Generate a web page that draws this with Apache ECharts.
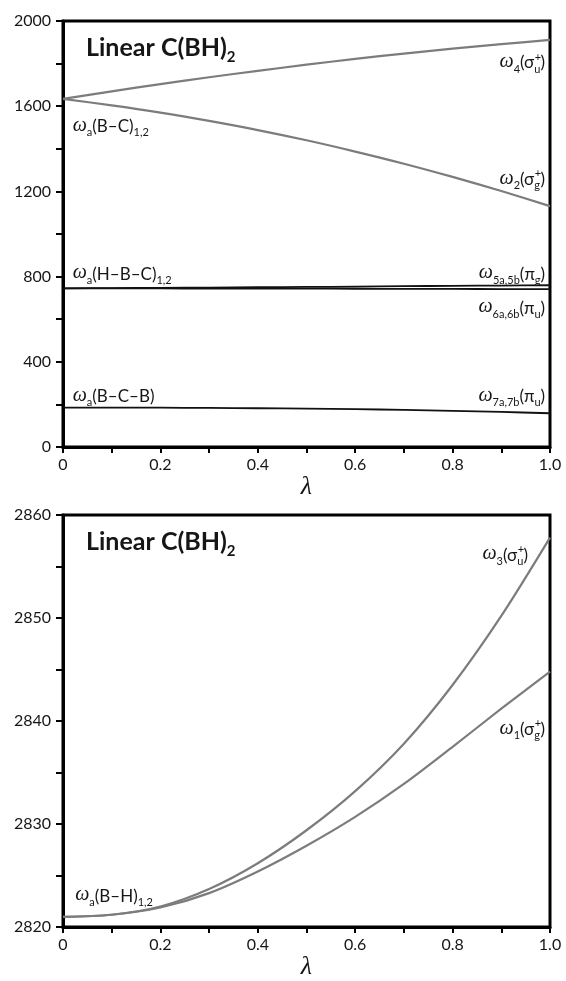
<!DOCTYPE html>
<html>
<head>
<meta charset="utf-8">
<script src="https://cdn.jsdelivr.net/npm/echarts@6/dist/echarts.min.js"></script>
<style>
  html, body { margin: 0; padding: 0; background: #fff; }
  #main { width: 566px; height: 981px; }
</style>
</head>
<body>
<div id="main"></div>
<script>
// lambda grid shared by both panels
const lambda = [0, 0.1, 0.2, 0.3, 0.4, 0.5, 0.6, 0.7, 0.8, 0.9, 1.0];

// upper panel (cm-1)
const w4 = [1634, 1670, 1704, 1736, 1766, 1795, 1822, 1847, 1870, 1891, 1911];
const w2 = [1634, 1604, 1570, 1531, 1488, 1440, 1387, 1330, 1268, 1202, 1131];
const w5 = [745, 746, 747, 748.5, 750, 751.5, 753, 755, 756.5, 758, 759.5];
const w6 = [745, 745, 744.5, 744, 744, 743.5, 743, 742.5, 742, 741.5, 741];
const w7 = [185, 185, 184.5, 183.5, 182, 180, 177.5, 174.5, 170, 164.5, 158.5];

// lower panel (cm-1)
const w3 = [2821.0, 2821.2, 2822.0, 2823.7, 2826.2, 2829.4, 2833.2, 2837.8, 2843.5, 2850.2, 2857.8];
const w1 = [2821.0, 2821.2, 2821.9, 2823.3, 2825.4, 2827.9, 2830.7, 2833.9, 2837.5, 2841.2, 2844.8];

// labelled ticks
const xLabels = [0, 0.2, 0.4, 0.6, 0.8, 1.0];
const yTopLabels = [0, 400, 800, 1200, 1600, 2000];
const yBotLabels = [2820, 2830, 2840, 2850, 2860];

const SANS = 'Lato';
const SERIF = 'Liberation Serif';
const INK = '#161616';

const pairs = (ys) => lambda.map((x, i) => [x, ys[i]]);

function xAxisCfg(gi) {
    return {
        type: 'value', gridIndex: gi, min: 0, max: 1, interval: 0.1,
        name: 'λ', nameLocation: 'middle', nameGap: 24,
        nameTextStyle: {fontFamily: SERIF, fontStyle: 'italic', fontSize: 26, color: INK},
        axisLine: {onZero: false, lineStyle: {color: '#000', width: 3}},
        axisTick: {length: 6, lineStyle: {color: '#000', width: 2}},
        axisLabel: {
            margin: 10, fontSize: 16, fontFamily: SANS, color: INK,
            formatter: v => xLabels.some(l => Math.abs(l - v) < 1e-6) ? (v === 0 ? '0' : v.toFixed(1)) : ''
        },
        splitLine: {show: false}
    };
}

function yAxisCfg(gi, min, max, step, labels) {
    return {
        type: 'value', gridIndex: gi, min: min, max: max, interval: step,
        axisLine: {lineStyle: {color: '#000', width: 3}},
        axisTick: {length: 7, lineStyle: {color: '#000', width: 2}},
        axisLabel: {
            margin: 12, fontSize: 16, fontFamily: SANS, color: INK,
            formatter: v => labels.some(l => Math.abs(l - v) < 1e-6) ? String(Math.round(v)) : ''
        },
        splitLine: {show: false}
    };
}

function line(name, ys, gi, color, width) {
    return {
        name: name, type: 'line', xAxisIndex: gi, yAxisIndex: gi,
        data: pairs(ys), showSymbol: false, smooth: 0.3,
        lineStyle: {color: color, width: width}, silent: true
    };
}

const chart = echarts.init(document.getElementById('main'));
chart.setOption({
    animation: false,
    backgroundColor: '#fff',
    grid: [
        {left: 63, right: 16, top: 21, height: 426, show: true, borderColor: '#000', borderWidth: 3, containLabel: false},
        {left: 63, right: 16, top: 515, height: 425, show: true, borderColor: '#000', borderWidth: 3, containLabel: false}
    ],
    xAxis: [xAxisCfg(0), xAxisCfg(1)],
    yAxis: [yAxisCfg(0, 0, 2000, 200, yTopLabels), yAxisCfg(1, 2820, 2860, 5, yBotLabels)],
    series: [
        line('w4', w4, 0, '#7c7c7c', 2.2),
        line('w2', w2, 0, '#7c7c7c', 2.2),
        line('w5', w5, 0, '#111', 1.8),
        line('w6', w6, 0, '#111', 1.8),
        line('w7', w7, 0, '#111', 1.8),
        line('w3', w3, 1, '#7c7c7c', 2.2),
        line('w1', w1, 1, '#7c7c7c', 2.2)
    ]
});

// --- text annotations with sub/superscripts ---
const mctx = document.createElement('canvas').getContext('2d');
function P(t, size, opt) {
    return Object.assign({t: t, size: size, family: SANS, style: 'normal', weight: 'normal', dy: 0}, opt || {});
}
function measure(p, t) {
    mctx.font = `${p.style} ${p.weight} ${p.size}px "${p.family}"`;
    return mctx.measureText(t).width;
}
function textEl(t, x, y, p) {
    return {
        type: 'text', x: x, y: y, z: 100, silent: true,
        style: {text: t, fill: INK, fontSize: p.size, fontFamily: p.family, fontStyle: p.style,
            fontWeight: p.weight, verticalAlign: 'middle', align: 'left'}
    };
}
function buildLabel(x, y, parts, align) {
    const ws = parts.map(p => Math.max(measure(p, p.t), p.sup ? measure(p, p.sup) : 0));
    const total = ws.reduce((a, b) => a + b, 0);
    let cx = align === 'right' ? x - total : x;
    const out = [];
    parts.forEach((p, i) => {
        out.push(textEl(p.t, cx, y + p.dy, p));
        if (p.sup) out.push(textEl(p.sup, cx + 0.5, y + p.supDy, p));
        cx += ws[i];
    });
    return out;
}

const omega = () => P('ω', 20, {family: SERIF, style: 'italic', dy: -1});
const sub = (t) => P(t, 11, {dy: 6});
const main = (t) => P(t, 17);
const stack = (lo, hi) => P(lo, 11, {dy: 6, sup: hi, supDy: -6});

const annotations = [
    {g: 0, at: [0.02, 1505], align: 'left', parts: [omega(), sub('a'), main('(B–C)'), sub('1,2')]},
    {g: 0, at: [0.99, 1803], align: 'right', parts: [omega(), sub('4'), main('(σ'), stack('u', '+'), main(')')]},
    {g: 0, at: [0.99, 1257], align: 'right', parts: [omega(), sub('2'), main('(σ'), stack('g', '+'), main(')')]},
    {g: 0, at: [0.02, 812], align: 'left', parts: [omega(), sub('a'), main('(H–B–C)'), sub('1,2')]},
    {g: 0, at: [0.99, 812], align: 'right', parts: [omega(), sub('5a,5b'), main('(π'), sub('g'), main(')')]},
    {g: 0, at: [0.99, 652], align: 'right', parts: [omega(), sub('6a,6b'), main('(π'), sub('u'), main(')')]},
    {g: 0, at: [0.02, 235], align: 'left', parts: [omega(), sub('a'), main('(B–C–B)')]},
    {g: 0, at: [0.99, 235], align: 'right', parts: [omega(), sub('7a,7b'), main('(π'), sub('u'), main(')')]},
    {g: 1, at: [0.955, 2856.1], align: 'right', parts: [omega(), sub('3'), main('(σ'), stack('u', '+'), main(')')]},
    {g: 1, at: [0.99, 2839.2], align: 'right', parts: [omega(), sub('1'), main('(σ'), stack('g', '+'), main(')')]},
    {g: 1, at: [0.025, 2823.0], align: 'left', parts: [omega(), sub('a'), main('(B–H)'), sub('1,2')]}
];

const titleParts = [P('Linear C(BH)', 25, {weight: 'bold'}), P('2', 15, {weight: 'bold', dy: 9})];

let elements = [];
annotations.forEach(a => {
    const pt = chart.convertToPixel({gridIndex: a.g}, a.at);
    elements = elements.concat(buildLabel(pt[0], pt[1], a.parts, a.align));
});
[0, 1].forEach(g => {
    const r = chart.getModel().getComponent('grid', g).coordinateSystem.getRect();
    elements = elements.concat(buildLabel(r.x + 23, r.y + 27, titleParts, 'left'));
});
chart.setOption({graphic: {elements: elements}});
</script>
</body>
</html>
